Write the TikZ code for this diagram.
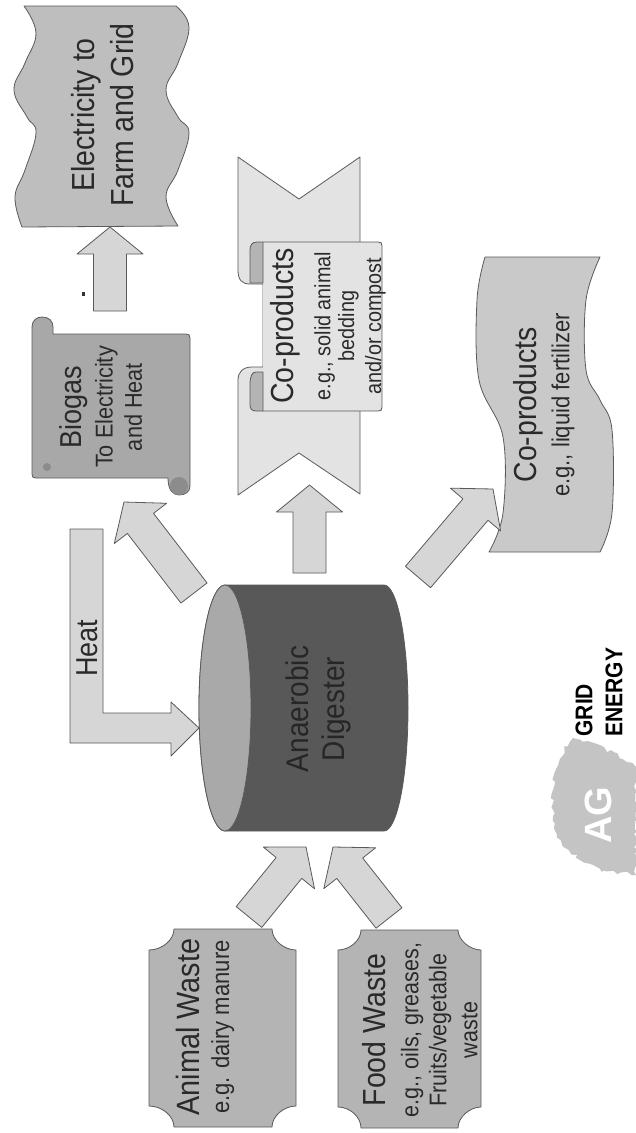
\documentclass[tikz,border=0pt]{standalone}
\usepackage{fontspec}
\setmainfont{Liberation Sans}
\usetikzlibrary{calc,decorations.pathmorphing}
\definecolor{edgecol}{HTML}{5A5A5A}
\definecolor{elecfill}{HTML}{BEBEBE}
\definecolor{biofill}{HTML}{A8A8A8}
\definecolor{biodark}{HTML}{8C8C8C}
\definecolor{ribfill}{HTML}{E3E3E3}
\definecolor{foldfill}{HTML}{B4B4B4}
\definecolor{wavefill}{HTML}{C9C9C9}
\definecolor{arrowfill}{HTML}{D6D6D6}
\definecolor{plaquefill}{HTML}{B4B4B4}
\definecolor{cylfill}{HTML}{585858}
\definecolor{capfill}{HTML}{A9A9A9}
\definecolor{logofill}{HTML}{C4C4C4}
\definecolor{inktext}{HTML}{2A2A2A}
\newcommand\fs[2]{\fontsize{#1}{#2}\selectfont}
\newcommand\lsk[1]{\fontsize{10}{#1}\selectfont\lineskiplimit=-100pt\relax}
\newcommand\blockarrow[2]{%
  \coordinate (ab) at ($(#2)!27pt!(#1)$);
  \draw[blockarrowstyle]
    ($(#1)!16.5pt!90:(#2)$) -- ($(ab)!16.5pt!90:(#2)$) -- ($(ab)!33pt!90:(#2)$) -- (#2)
    -- ($(ab)!33pt!-90:(#2)$) -- ($(ab)!16.5pt!-90:(#2)$) -- ($(#1)!16.5pt!-90:(#2)$) -- cycle;
}
\tikzset{
  shapeline/.style={draw=edgecol,line width=.8pt,line join=round},
  blockarrowstyle/.style={shapeline,fill=arrowfill},
  label/.style={rotate=90,yscale=1.12,align=center,text=inktext,inner sep=0pt},
}
\begin{document}
\begin{tikzpicture}[x=1pt,y=-1pt]
\useasboundingbox (0,0) rectangle (636,1133);
\fill[white] (0,0) rectangle (636,1133);

% Electricity
\draw[shapeline,fill=elecfill] (24,6) -- (176,6)
  -- plot[smooth,tension=.7] coordinates {(176,6)(189,27)(178,63)(166,90)(178,117)(189,133)(178,170)(166,197)(178,226)}
  -- (22,227)
  -- plot[smooth,tension=.7] coordinates {(22,227)(15,197)(25,170)(36,133)(27,117)(14,90)(25,63)(36,33)(24,6)} -- cycle;
\node[label,font=\fs{28.5}{35}] (elec) at (102.5,115) {Electricity to\\Farm and Grid};

% Biogas scroll
\draw[shapeline,fill=biofill] (53,334) -- (186,334) .. controls (189,334) and (190,335) .. (190,338)
  -- (190,486) .. controls (190,492) and (185,495) .. (179,495)
  .. controls (173,495) and (168,490) .. (168,478)
  -- (36,478) .. controls (33,478) and (32,477) .. (32,474)
  -- (32,327) .. controls (32,320) and (37,317) .. (42,317)
  .. controls (49,317) and (53,321) .. (53,327) -- cycle;
\fill[biodark] (179,486) circle [radius=9pt];
\fill[biodark] (47,467) circle [radius=4pt];
\node[label,font=\lsk{26}] (bio) at (101,407) {\fs{27}{27}Biogas\\[1.5pt]\fs{21.7}{22}To Electricity\\\fs{21.7}{22}and Heat};

% Ribbon co-products
\draw[shapeline,fill=ribfill] (238,157) -- (299,199) -- (360,157) -- (360,494) -- (299,453) -- (238,495)
  -- (238,380) .. controls (238,372) and (243,367) .. (252,367) -- (263,367) -- (263,284) -- (250,284)
  .. controls (242,284) and (238,280) .. (238,270) -- cycle;
\fill[ribfill] (263,242) rectangle (382,411);
\draw[shapeline] (263,242) -- (378,242) .. controls (381,242) and (382,243) .. (382,246)
  -- (382,407) .. controls (382,410) and (381,411) .. (378,411) -- (263,411);
\fill[ribfill] (263.5,284) rectangle (275,367);
\draw[shapeline,fill=foldfill] (263,242) -- (257,242) .. controls (252,242) and (250,245) .. (250,250) -- (250,283) -- (263,283) -- cycle;
\draw[shapeline,fill=foldfill] (263,372) -- (256,372) .. controls (252,372) and (250,376) .. (250,385)
  -- (250,405) .. controls (250,409) and (252,411) .. (256,411) -- (263,411) -- cycle;
\node[label,font=\lsk{21.4}] (co1) at (328,326) {\fs{28.5}{28}Co-products\\[11.6pt]\fs{19.8}{20}e.g., solid animal\\\fs{19.8}{20}bedding\\[2.7pt]\fs{19.8}{20}and/or compost};

% Co-products wave
\draw[shapeline,fill=wavefill] (485,257) -- (600,257)
  -- plot[smooth,tension=.6] coordinates {(600,257)(586,300)(586,370)(600,400)(612,430)(612,513)(600,552)}
  -- (489,552)
  -- plot[smooth,tension=.6] coordinates {(489,552)(503,513)(503,437)(479,380)(477,300)(485,257)} -- cycle;
\node[label,font=\lsk{29.5}] (co2) at (544,405) {\fs{28.4}{28}Co-products\\\fs{22}{22}e.g., liquid fertilizer};

% Digester
\draw[shapeline,fill=cylfill] (225,585) -- (384,585) arc [start angle=90,end angle=-90,x radius=24pt,y radius=123pt]
  -- (225,831) arc [start angle=-90,end angle=-270,x radius=26pt,y radius=123pt] -- cycle;
\draw[shapeline,fill=capfill] (225,708) ellipse [x radius=26pt,y radius=123pt];
\node[label,text=black!85,font=\fs{28}{32}] (dig) at (318,709) {Anaerobic\\Digester};

% Heat
\draw[blockarrowstyle] (70,529) -- (103,529) -- (103,713) -- (171,713) -- (171,702) -- (199,728) -- (171,756) -- (171,743) -- (70,743) -- cycle;
\node[label,font=\fs{27}{27}] (heat) at (87,648) {Heat};

% Waste plaques
\draw[shapeline,fill=plaquefill] (174,929) -- (272,929) .. controls (272,940) and (284,950) .. (296,950)
  -- (296,1106) .. controls (284,1106) and (272,1116) .. (272,1127) -- (174,1127)
  .. controls (174,1116) and (162,1106) .. (149,1106) -- (149,950) .. controls (162,950) and (174,940) .. (174,929) -- cycle;
\node[label,font=\lsk{26.8}] (animal) at (205,1027) {\fs{28.8}{28}Animal Waste\\\fs{22}{22}e.g. dairy manure};
\draw[shapeline,fill=plaquefill] (361,930) -- (458,930) .. controls (458,940) and (470,950) .. (481,950)
  -- (481,1107) .. controls (470,1107) and (458,1117) .. (458,1128) -- (361,1128)
  .. controls (361,1117) and (350,1107) .. (338,1107) -- (338,950) .. controls (350,950) and (361,940) .. (361,930) -- cycle;
\node[label,font=\lsk{25}] (food) at (420,1030) {\fs{28.5}{28}Food Waste\\[4.5pt]\fs{21.5}{22}e.g., oils, greases,\\\fs{21.5}{22}Fruits/vegetable\\[2.7pt]\fs{21.5}{22}waste};

% Connector ends
\coordinate (t1) at (110,311); \coordinate (h1) at (110,227);
\coordinate (t2) at (194,593); \coordinate (h2) at (124,502);
\coordinate (t3) at (309.5,573); \coordinate (h3) at (309.5,485);
\coordinate (t4) at (418,577); \coordinate (h4) at (493,489);
\coordinate (t5) at (249,917); \coordinate (h5) at (306,847);
\coordinate (t6) at (389,918); \coordinate (h6) at (333,847);
\blockarrow{t1}{h1}
\blockarrow{t2}{h2}
\blockarrow{t3}{h3}
\blockarrow{t4}{h4}
\blockarrow{t5}{h5}
\blockarrow{t6}{h6}

% Speck
\fill[black!80] (82,291.5) rectangle (84.5,296);

% Logo
\fill[logofill,decorate,decoration={random steps,segment length=4pt,amplitude=2pt}] (573,738)
  .. controls (590,742) and (615,752) .. (636,767) -- (636,875)
  .. controls (620,872) and (610,872) .. (602,872) .. controls (585,862) and (565,850) .. (557,837)
  .. controls (552,820) and (552,805) .. (553,790) .. controls (555,770) and (562,750) .. (573,738) -- cycle;
\node[rotate=90,inner sep=0pt,text=white,font=\fs{38}{38}\bfseries] (ag) at (598,815) {AG};
\node[rotate=90,yscale=1.15,align=left,inner sep=0pt,text=black,font=\fs{21}{26}\bfseries] (grid) at (599,692) {GRID\\ENERGY};
\end{tikzpicture}
\end{document}
